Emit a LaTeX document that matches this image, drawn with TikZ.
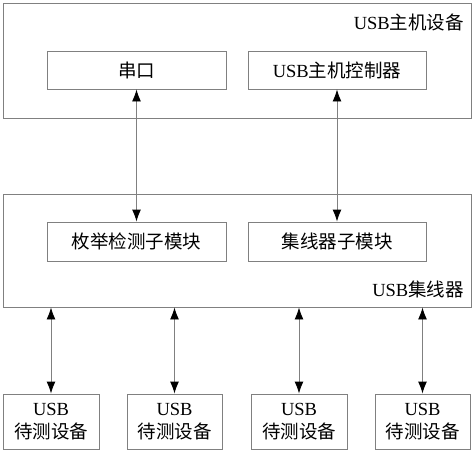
\documentclass[tikz,border=0pt]{standalone}
\usepackage{fontspec}
\setmainfont{Liberation Serif}
\newfontfamily\cjk{Noto Sans CJK SC}
\usetikzlibrary{arrows.meta}
\begin{document}
\begin{tikzpicture}[x=1pt,y=-1pt,
  box/.style={draw=black!50,line width=0.9pt,rectangle,inner sep=0pt,font=\fontsize{18.5}{22}\selectfont},
  lbl/.style={inner sep=0pt,font=\fontsize{18.5}{22}\selectfont,anchor=east},
  conn/.style={draw=black!50,line width=0.9pt,{Latex[length=12pt,width=9pt,black]}-{Latex[length=12pt,width=9pt,black]}},
  dev/.style={box,align=center,font=\fontsize{18.5}{25}\selectfont}]
\useasboundingbox (0,0) rectangle (474,453);
% host
\node[box,minimum width=468pt,minimum height=115pt] (host) at (237,60.5) {};
\node[lbl] (hostlbl) at (464,22) {USB{\cjk 主机设备}};
\node[box,minimum width=179pt,minimum height=38pt] (serial) at (136.5,70) {\cjk 串口};
\node[box,minimum width=178pt,minimum height=38pt] (ctrl) at (337,70) {USB{\cjk 主机控制器}};
% hub
\node[box,minimum width=468pt,minimum height=113pt] (hub) at (237,250.5) {};
\node[lbl] (hublbl) at (464,289) {USB{\cjk 集线器}};
\node[box,minimum width=179pt,minimum height=39pt] (enum) at (136.5,241.5) {\cjk 枚举检测子模块};
\node[box,minimum width=178pt,minimum height=39pt] (hubsub) at (337,241.5) {\cjk 集线器子模块};
% devices
\node[dev,minimum width=96pt,minimum height=55pt] (d1) at (51,421.5) {USB\\[-2pt]{\cjk 待测设备}};
\node[dev,minimum width=95pt,minimum height=55pt] (d2) at (174.5,421.5) {USB\\[-2pt]{\cjk 待测设备}};
\node[dev,minimum width=96pt,minimum height=55pt] (d3) at (299,421.5) {USB\\[-2pt]{\cjk 待测设备}};
\node[dev,minimum width=95pt,minimum height=55pt] (d4) at (422.5,421.5) {USB\\[-2pt]{\cjk 待测设备}};
% connectors
\draw[conn] (serial.south) -- (enum.north);
\draw[conn] (ctrl.south) -- (hubsub.north);
\foreach \d in {d1,d2,d3,d4}{
  \draw[conn] (hub.south -| \d.north) -- (\d.north);
}
\end{tikzpicture}
\end{document}
